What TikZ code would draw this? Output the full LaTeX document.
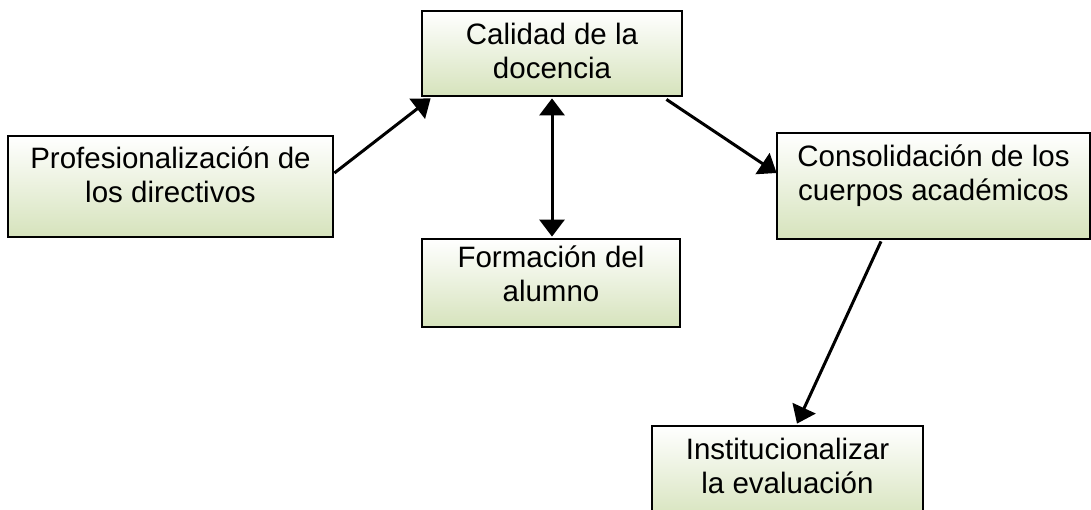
\documentclass[tikz,border=0pt]{standalone}
\usepackage{fontspec}
\setmainfont{Liberation Sans}
\usetikzlibrary{arrows.meta,calc}
\definecolor{boxgreen}{RGB}{214,227,188}
\newcommand\lstr{\rule[-6.4pt]{0pt}{27.5pt}}
\tikzset{
  box/.style={draw=black, line width=2.8pt, rectangle, inner sep=0pt,
    top color=white, bottom color=boxgreen},
  txt/.style={inner sep=0pt, align=center, font=\fontsize{29.5}{34}\selectfont},
  tip/.style={},
  arr/.style={line width=3pt, -{Triangle[length=17pt,width=25pt]}},
  dbl/.style={line width=3pt, {Triangle[length=17pt,width=25pt]}-{Triangle[length=17pt,width=25pt]}}
}
\begin{document}
\begin{tikzpicture}[x=1pt,y=-1pt]
\useasboundingbox (0,0) rectangle (1091,510);
\clip (0,0) rectangle (1091,510);
% boxes
\node[box, minimum width=260pt, minimum height=85pt] (cal) at (552,53.5) {};
\node[box, minimum width=325pt, minimum height=101pt] (prof) at (170.5,186.5) {};
\node[box, minimum width=313pt, minimum height=106pt] (cons) at (933.5,186) {};
\node[box, minimum width=258pt, minimum height=88pt] (form) at (551,283) {};
\node[box, minimum width=271pt, minimum height=95pt] (inst) at (787.5,473.5) {};
% texts
\node[txt] (calt) at (552,53.9) {\lstr Calidad de la\\\lstr docencia};
\node[txt] (proft) at (170.5,177.4) {\lstr Profesionalización de\\\lstr los directivos};
\node[txt] (const) at (933.5,175.4) {\lstr Consolidación de los\\\lstr cuerpos académicos};
\node[txt] (formt) at (551,276.4) {\lstr Formación del\\\lstr alumno};
\node[txt] (instt) at (787.5,469.4) {\lstr Institucionalizar\\\lstr la evaluación};
% connectors
\draw[arr] ([yshift=13.5pt]prof.east) -- ([xshift=10pt,yshift=-1pt]cal.south west);
\draw[arr] ([xshift=-17pt,yshift=-2pt]cal.south east) -- ([xshift=1pt,yshift=13pt]cons.west);
\draw[dbl] ([yshift=-1pt]cal.south) -- ([yshift=1pt]cal.south |- form.north);
\draw[arr] ([xshift=-52.5pt,yshift=-1pt]cons.south) -- ([xshift=9.5pt,yshift=1pt]inst.north);
\end{tikzpicture}
\end{document}
